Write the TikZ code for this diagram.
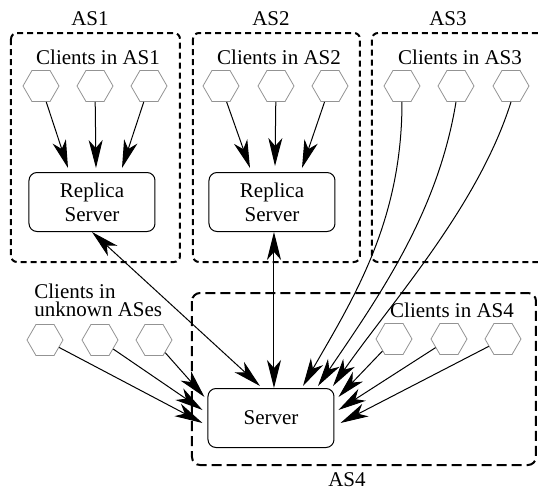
\documentclass[tikz,border=0pt]{standalone}
\usepackage{fontspec}
\setmainfont{Liberation Serif}
\usetikzlibrary{arrows.meta, shapes.geometric}

\begin{document}
\begin{tikzpicture}[
    x=0.5pt, y=-0.5pt,
    every node/.style={font=\rmfamily\fontsize{10.5}{12}\selectfont},
    client/.style={
      regular polygon, regular polygon sides=6, minimum size=18pt,
      inner sep=0pt, draw=gray!85, line width=0.4pt
    },
    srvbox/.style={
      draw, rounded corners=4pt, align=center, line width=0.5pt,
      minimum width=63pt, minimum height=29.5pt
    },
    asbox/.style={dashed, dash pattern=on 3pt off 2pt, line width=1pt,
      rounded corners=3pt},
    asfour/.style={dashed, dash pattern=on 5pt off 2.5pt, line width=1pt,
      rounded corners=4pt},
    tip/.tip={Stealth[length=14pt, width=7pt, inset=4pt]},
    req arrow/.style={-tip, line width=0.5pt},
    sync arrow/.style={tip-tip, line width=0.5pt},
  ]
  \useasboundingbox (0,0) rectangle (538,489);

  %% ---- AS boxes ----
  \draw[asbox] (11,33) rectangle (180,262);
  \draw[asbox] (193,33) rectangle (360,262);
  \draw[asbox] (538,33) -- (372,33) -- (372,262) -- (538,262);
  \draw[asfour] (192,293) rectangle (536,465);

  \node (as1) at (90,19)  {AS1};
  \node (as2) at (271,19) {AS2};
  \node (as3) at (448,19) {AS3};
  \node (as4) at (347,480) {AS4};

  %% ---- client labels ----
  \node (lab1) at (98,57)  {Clients in AS1};
  \node (lab2) at (279,57) {Clients in AS2};
  \node (lab3) at (460,57) {Clients in AS3};
  \node (lab4) at (452,310) {Clients in AS4};
  \node[align=left, anchor=north west, inner sep=0pt,
        font=\rmfamily\fontsize{10.5}{9}\selectfont]
    (labu) at (34,284) {Clients in\\unknown ASes};

  %% ---- clients ----
  \node[client] (h11) at (41,86)  {};
  \node[client] (h12) at (95,86)  {};
  \node[client] (h13) at (149,86) {};
  \node[client] (h21) at (221,86) {};
  \node[client] (h22) at (276,86) {};
  \node[client] (h23) at (330,86) {};
  \node[client] (h31) at (402,86) {};
  \node[client] (h32) at (456,86) {};
  \node[client] (h33) at (511,86) {};
  \node[client] (h41) at (394,339) {};
  \node[client] (h42) at (449,339) {};
  \node[client] (h43) at (503,339) {};
  \node[client] (u1) at (45,340)  {};
  \node[client] (u2) at (100,340) {};
  \node[client] (u3) at (154,340) {};

  %% ---- servers ----
  \node[srvbox] (rs1) at (92,202)  {Replica\\Server};
  \node[srvbox] (rs2) at (272,202) {Replica\\Server};
  \node[srvbox] (srv) at (271,418) {Server};

  %% ---- clients -> replica servers ----
  \draw[req arrow] (h11) -- ([xshift=-12pt,yshift=2pt]rs1.north);
  \draw[req arrow] (h12) -- ([xshift=2pt,yshift=2pt]rs1.north);
  \draw[req arrow] (h13) -- ([xshift=15pt,yshift=2pt]rs1.north);
  \draw[req arrow] (h21) -- ([xshift=-11pt,yshift=2pt]rs2.north);
  \draw[req arrow] (h22) -- ([xshift=1.5pt,yshift=3pt]rs2.north);
  \draw[req arrow] (h23) -- ([xshift=15pt,yshift=2pt]rs2.north);

  %% ---- replicas <-> server ----
  \draw[sync arrow] (rs1.south) -- ([xshift=-5.5pt,yshift=1pt]srv.north);
  \draw[sync arrow] ([xshift=1pt]rs2.south) -- ([xshift=1.5pt]srv.north);

  %% ---- AS3 clients (curved) ----
  \draw[req arrow] (h31.south) .. controls +(0,120) and +(50,-87)
    .. ([xshift=16pt,yshift=1pt]srv.north);
  \draw[req arrow] (h32.south) .. controls +(-18,110) and +(62,-91)
    .. ([xshift=23.5pt,yshift=1pt]srv.north);
  \draw[req arrow] (h33.south) .. controls +(-33,105) and +(57,-82)
    .. ([xshift=31pt,yshift=1pt]srv.north);

  %% ---- AS4 clients and unknown clients ----
  \draw[req arrow] (h41) -- ([xshift=2pt,yshift=10.5pt]srv.east);
  \draw[req arrow] (h42) -- ([xshift=2pt,yshift=4pt]srv.east);
  \draw[req arrow] (h43) -- ([xshift=3pt,yshift=-2.5pt]srv.east);
  \draw[req arrow] (u3) -- ([xshift=-1.5pt,yshift=10.5pt]srv.west);
  \draw[req arrow] (u2) -- ([xshift=-2.5pt,yshift=4pt]srv.west);
  \draw[req arrow] (u1) -- ([xshift=-2.5pt,yshift=-2.5pt]srv.west);

\end{tikzpicture}
\end{document}
